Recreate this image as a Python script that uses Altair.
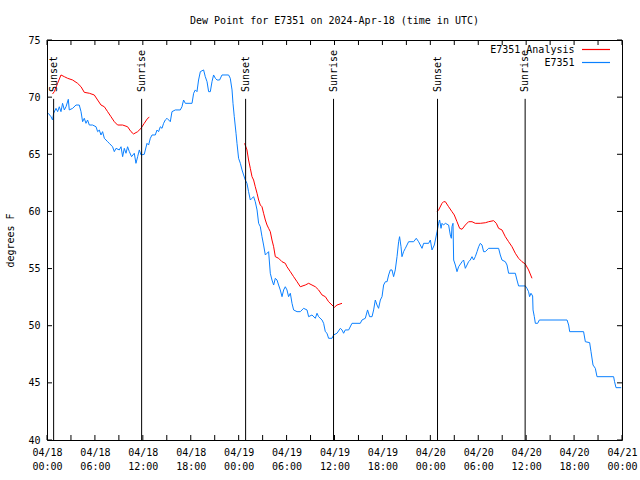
import altair as alt
import pandas as pd

FONT = "DejaVu Sans Mono"
RED = "#ff0000"
BLUE = "#0a80ff"

TITLE = "Dew Point for E7351 on 2024-Apr-18 (time in UTC)"

# ---- observed dew point (hours after 2024-04-18 00:00 UTC, deg F) ----
blue_h = [0.16,0.50,0.70,0.83,1.13,1.33,1.54,1.75,1.95,2.17,
          2.38,2.67,2.79,3.21,3.63,4.04,4.26,4.46,4.67,4.88,
          5.08,5.30,5.71,6.14,6.34,6.55,6.76,6.96,7.18,7.39,
          7.59,7.80,8.21,8.43,8.64,9.05,9.27,9.47,9.68,9.89,
          10.09,10.31,10.59,10.93,11.14,11.35,11.56,11.77,12.18,12.52,
          12.72,12.94,13.15,13.56,13.77,13.97,14.19,14.40,14.60,14.81,
          15.03,15.44,15.65,16.07,16.69,16.90,17.10,17.32,18.16,18.36,
          18.57,18.78,18.98,19.20,19.61,19.82,20.04,20.24,20.45,20.66,
          20.86,21.08,21.29,21.61,21.91,22.74,22.95,23.17,23.29,23.45,
          23.67,23.79,23.99,24.21,24.42,24.62,24.83,25.04,25.24,25.46,
          25.67,25.87,26.08,26.30,26.50,26.71,26.92,27.12,27.34,27.55,
          27.75,27.96,28.17,28.38,28.59,28.80,29.00,29.21,29.43,29.63,
          29.84,30.05,30.25,30.47,30.68,30.88,31.31,31.72,32.13,32.56,
          32.76,33.18,33.60,33.81,34.01,34.44,34.64,34.85,35.06,35.26,
          35.69,35.89,36.31,36.73,36.94,37.14,37.35,37.77,38.19,39.23,
          39.44,39.86,40.14,40.40,40.70,40.90,41.11,41.32,41.52,41.74,
          41.95,42.15,42.37,42.58,42.78,42.99,43.20,43.40,43.61,43.83,
          44.03,44.15,44.33,44.45,44.65,44.87,45.28,45.91,46.24,46.53,
          46.96,47.16,47.79,48.00,48.21,48.50,48.84,49.04,49.16,49.34,
          49.46,49.66,49.88,50.29,50.50,50.63,50.71,50.84,50.92,51.13,
          51.34,51.54,51.97,52.17,52.38,52.59,52.79,53.00,53.22,53.42,
          53.63,53.85,54.05,54.26,54.47,54.67,54.89,55.10,55.30,56.55,
          56.76,56.97,57.39,57.60,57.80,58.64,58.85,59.05,59.89,60.10,
          60.30,60.43,60.60,60.81,60.86,61.02,61.15,61.44,61.65,65.12,
          65.32,65.45,67.19,67.41,67.95,68.12,68.37,68.66,68.87,70.95,
          71.07,71.25,71.90]
blue_v = [68.59,68.29,68.00,68.59,69.02,68.73,69.16,68.73,69.46,68.88,
          69.16,69.81,68.88,69.02,69.31,69.31,68.73,67.85,68.15,67.71,
          68.00,67.56,67.56,67.41,66.98,67.12,66.69,66.98,66.40,66.25,
          66.10,65.96,65.66,65.23,65.52,65.38,65.66,64.79,65.52,65.09,
          65.66,65.23,64.79,65.09,64.21,64.79,65.38,64.94,65.00,65.96,
          65.81,66.40,66.69,66.69,67.12,66.98,67.41,67.27,67.71,68.00,
          68.15,67.85,68.73,68.88,68.88,69.16,69.75,69.46,69.46,70.34,
          70.63,70.48,71.50,72.23,72.38,71.79,71.35,70.48,70.48,71.35,
          71.94,71.65,71.50,71.50,71.94,71.94,71.65,70.63,69.46,68.29,
          66.84,65.96,64.65,64.21,63.63,63.19,62.75,62.46,61.73,61.00,
          61.15,61.29,60.85,60.13,58.96,58.67,57.79,57.06,56.19,56.34,
          56.48,54.59,54.00,53.56,54.15,54.00,53.56,53.13,52.54,53.13,
          53.41,53.13,52.54,52.84,51.96,51.38,51.23,51.23,51.52,51.38,
          50.79,50.94,50.65,51.09,50.79,50.50,50.21,49.48,49.34,48.90,
          48.90,49.19,49.34,49.77,49.63,49.34,49.63,49.63,50.21,50.21,
          50.50,50.65,51.38,50.79,50.79,51.38,52.25,51.81,51.52,52.25,
          52.54,53.56,53.85,53.85,54.44,54.88,54.88,54.29,54.88,56.04,
          57.35,57.79,56.91,56.04,56.48,56.77,57.35,57.35,57.65,57.35,
          56.77,57.21,57.21,57.50,56.63,57.06,58.23,58.96,59.25,58.52,
          58.96,58.81,58.96,58.81,57.94,57.65,58.67,58.96,55.75,55.31,
          54.73,55.16,55.60,55.75,55.02,55.31,55.60,55.75,56.04,55.75,
          56.04,56.48,56.91,57.21,57.06,56.48,56.48,56.63,56.77,56.77,
          56.19,55.75,55.60,55.31,54.59,54.59,54.00,53.48,53.48,53.27,
          52.98,52.54,52.84,52.60,51.38,50.79,50.21,50.21,50.50,50.50,
          50.06,49.48,49.48,48.60,48.52,47.73,46.56,46.27,45.54,45.54,
          45.10,44.58,44.58]

# ---- analysis segments ----
r1_h = [0.70,0.91,1.33,1.75,2.17,2.58,3.21,3.83,4.26,4.67,5.30,5.92,6.34,6.76,
        7.18,7.59,8.01,8.43,8.84,9.47,10.09,10.52,10.84,11.35,11.77,12.18,12.60,12.81]
r1_v = [70.28,70.48,71.21,71.94,71.79,71.65,71.50,71.21,70.91,70.42,70.34,70.19,69.75,69.31,
        69.16,68.73,68.29,67.85,67.56,67.56,67.41,66.98,66.78,66.98,67.27,67.71,68.15,68.24]
r2_h = [24.74,25.04,25.24,25.46,25.67,25.87,26.08,26.30,26.50,26.71,
        26.92,27.12,27.34,27.55,27.75,27.96,28.17,28.38,28.59,29.00,
        29.43,29.84,30.05,30.47,30.88,31.31,31.72,32.34,32.76,33.18,
        33.60,34.01,34.44,34.85,35.26,35.69,35.98,36.31,36.94]
r2_v = [65.96,65.38,64.50,63.77,63.04,62.75,62.16,61.59,61.00,60.56,
        60.41,59.84,59.25,58.81,58.52,58.23,57.50,56.91,56.04,55.90,
        55.60,55.46,55.16,54.73,54.29,53.85,53.41,53.56,53.71,53.56,
        53.41,53.13,52.69,52.54,52.10,51.81,51.61,51.81,51.96]
r3_h = [48.84,49.04,49.46,49.66,49.88,50.29,50.71,51.00,51.34,51.67,
        51.97,52.38,52.79,53.22,53.63,54.26,54.89,55.30,55.92,56.26,
        56.55,56.97,57.39,57.80,58.23,58.64,59.05,59.48,59.89,60.30,60.73]
r3_v = [59.98,60.13,60.71,60.85,60.85,60.41,59.98,59.69,59.10,58.52,
        58.44,58.81,59.10,59.10,58.96,58.96,59.01,59.10,59.19,58.96,
        58.52,58.38,57.79,57.35,56.91,56.34,55.90,55.60,55.40,54.88,54.15]

# ---- sunrise / sunset ----
sun_h = [0.83, 11.85, 24.87, 35.88, 48.90, 59.87]
sun_label = ["Sunset", "Sunrise", "Sunset", "Sunrise", "Sunset", "Sunrise"]

x_major_h = list(range(0, 73, 6))
x_tick_h = list(range(0, 73, 3))
y_ticks = [40, 45, 50, 55, 60, 65, 70, 75]

BASE = pd.Timestamp("2024-04-18T00:00:00Z")


def iso(hours):
    return [(BASE + pd.Timedelta(hours=float(h))).strftime("%Y-%m-%dT%H:%M:%SZ") for h in hours]


def dt(h):
    return alt.DateTime(year=2024, month=4, date=18 + h // 24, hours=h % 24, utc=True)


blue_df = pd.DataFrame({"time": iso(blue_h), "value": blue_v})
red_df = pd.concat([
    pd.DataFrame({"time": iso(h), "value": v, "seg": i})
    for i, (h, v) in enumerate([(r1_h, r1_v), (r2_h, r2_v), (r3_h, r3_v)])
])
sun_df = pd.DataFrame({"time": iso(sun_h), "label": sun_label})
xt_df = pd.DataFrame({"time": iso(x_tick_h)})
yt_df = pd.DataFrame({"value": y_ticks})

xscale = alt.Scale(type="utc", domain=[dt(0), dt(72)])
yscale = alt.Scale(domain=[40, 75], nice=False, zero=False)

x_axis = alt.Axis(
    values=[dt(h) for h in x_major_h],
    labelExpr="[utcFormat(datum.value, '%m/%d'), utcFormat(datum.value, '%H:%M')]",
    labelFlush=False, labelOverlap=False, labelPadding=7, labelLineHeight=14,
    ticks=False, domain=False, grid=False, title=None,
)
y_axis = alt.Axis(
    values=y_ticks, ticks=False, domain=False, grid=False, labelPadding=7,
    title="degrees F", titleAngle=270, titleX=-37, titleY=200,
    titleAlign="center", titleBaseline="middle", titleFontWeight="normal",
    titleFontSize=10, titleFont=FONT,
)


def X():
    return alt.X("time:T", scale=xscale, axis=x_axis)


def Y():
    return alt.Y("value:Q", scale=yscale, axis=y_axis)


red = alt.Chart(red_df).mark_line(color=RED, strokeWidth=1).encode(
    x=X(), y=Y(), detail="seg:N", color=alt.value(RED)
)
blue = alt.Chart(blue_df).mark_line(color=BLUE, strokeWidth=1).encode(
    x=X(), y=Y(), color=alt.value(BLUE)
)

sun_rules = alt.Chart(sun_df).mark_rule(color="black", strokeWidth=1).encode(
    x=X(), y=alt.datum(40), y2=alt.datum(69.85)
)
sun_text = alt.Chart(sun_df).mark_text(
    angle=270, align="left", baseline="middle", font=FONT, fontSize=10, color="black"
).encode(x=X(), y=alt.datum(70.45), text="label:N")

tick_b = alt.Chart(xt_df).mark_rule(color="black").encode(x=X(), y=alt.value(400), y2=alt.value(395))
tick_t = alt.Chart(xt_df).mark_rule(color="black").encode(x=X(), y=alt.value(0), y2=alt.value(5))
tick_l = alt.Chart(yt_df).mark_rule(color="black").encode(y=Y(), x=alt.value(0), x2=alt.value(5))
tick_r = alt.Chart(yt_df).mark_rule(color="black").encode(y=Y(), x=alt.value(575), x2=alt.value(570))

leg_names = ["E7351 Analysis", "E7351"]
leg_colors = [RED, BLUE]
leg_rows = [9.5, 22.5]
legend_layers = []
for name, col, row in zip(leg_names, leg_colors, leg_rows):
    ldf = pd.DataFrame({"name": [name]})
    legend_layers.append(
        alt.Chart(ldf).mark_text(align="right", baseline="middle", font=FONT, fontSize=10, color="black")
        .encode(text="name:N", x=alt.value(527.5), y=alt.value(row))
    )
    legend_layers.append(
        alt.Chart(ldf).mark_rule(strokeWidth=1.2)
        .encode(x=alt.value(535), x2=alt.value(563), y=alt.value(row), color=alt.value(col))
    )

chart = alt.layer(
    red, blue, sun_rules, sun_text, tick_b, tick_t, tick_l, tick_r, *legend_layers
).properties(
    width=575, height=400,
    title=alt.TitleParams(TITLE, font=FONT, fontSize=10, fontWeight="normal",
                          anchor="middle", baseline="bottom", offset=-1, color="black"),
    autosize=alt.AutoSizeParams(type="none"),
    padding={"left": 47, "top": 40, "right": 18, "bottom": 40},
    background="white",
).configure_view(
    stroke="black", strokeWidth=1
).configure_axis(
    labelFont=FONT, labelFontSize=10, labelColor="black", titleColor="black"
)

chart.save("out.html", embed_options={"renderer": "svg", "actions": False})
